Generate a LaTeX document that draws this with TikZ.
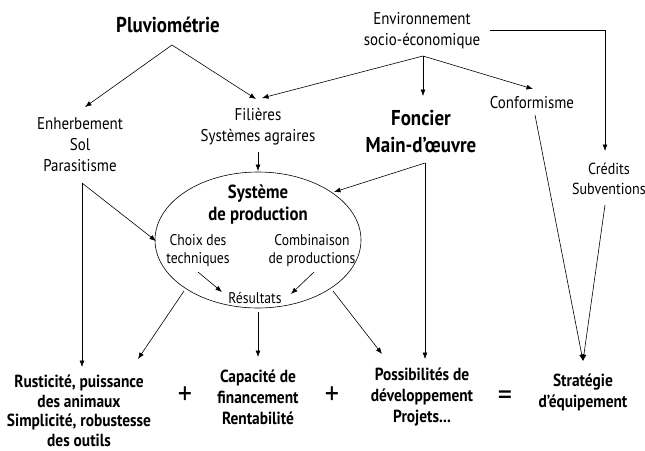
\documentclass[tikz,border=0pt]{standalone}
\usepackage{fontspec}
\setmainfont[FakeStretch=0.88]{PT Sans}
\usetikzlibrary{arrows.meta,shapes.geometric}
\begin{document}
\begin{tikzpicture}[x=1pt,y=-1pt,
  txt/.style={align=center,inner sep=0pt,font=\fontsize{17}{21}\selectfont},
  small/.style={align=center,inner sep=0pt,font=\fontsize{15.5}{18}\selectfont},
  big/.style={align=center,inner sep=0pt,font=\bfseries\fontsize{21.5}{27}\selectfont},
  sysf/.style={align=center,inner sep=0pt,font=\bfseries\fontsize{19}{22}\selectfont},
  bot/.style={align=center,inner sep=0pt,font=\bfseries\fontsize{17.5}{21}\selectfont},
  op/.style={inner sep=0pt,font=\fontsize{32}{32}\selectfont},
  con/.style={line width=0.6pt,-{Latex[length=6.5pt,width=5pt]}},
  ln/.style={line width=0.6pt}]
\useasboundingbox (0,0) rectangle (645,450);
% nodes
\node[big] (pluv) at (168,25) {Pluviométrie};
\node[txt] (env) at (422,31) {Environnement\\socio-économique};
\node[txt] (enh) at (80,145) {Enherbement\\Sol\\Parasitisme};
\node[txt] (fil) at (258,127) {Filières\\Systèmes agraires};
\node[big] (fon) at (421,132) {Foncier\\Main-d’œuvre};
\node[txt] (conf) at (532,103) {Conformisme};
\node[txt,font=\fontsize{16}{20}\selectfont] (cred) at (609,179) {Crédits\\Subventions};
\node[draw,ellipse,line width=0.6pt,minimum width=206,minimum height=136,inner sep=0pt] (sys) at (258,240) {};
\node[sysf] (sp) at (258,205) {Système\\de production};
\node[small] (choix) at (198,251) {Choix des\\techniques};
\node[small] (comb) at (312,251) {Combinaison\\de productions};
\node[small] (res) at (255,298) {Résultats};
\node[bot,font=\bfseries\fontsize{17.5}{19.5}\selectfont] (rus) at (79,411) {Rusticité, puissance\\des animaux\\Simplicité, robustesse\\des outils};
\node[bot] (cap) at (258,397) {Capacité de\\financement\\Rentabilité};
\node[bot] (pos) at (422,397) {Possibilités de\\développement\\Projets...};
\node[bot] (strat) at (583,392) {Stratégie\\d’équipement};
\node[op] (plus1) at (185,396) {+};
\node[op] (plus2) at (332,396) {+};
\node[op] (eq) at (505,398) {=};
% coordinates
\coordinate (pA) at (172,45);
\coordinate (enhT) at (85,107);
\coordinate (filT) at (256,99);
\coordinate (filT2) at (262,98);
\coordinate (eA) at (423,56);
\coordinate (fonT) at (423,96);
\coordinate (confT) at (533,89);
\coordinate (eR) at (490,30);
\coordinate (eC) at (605,30);
\coordinate (credT) at (605,151);
\coordinate (filB) at (258,152);
\coordinate (sysT) at (258,171);
\coordinate (fonC) at (425,163);
\coordinate (sysR) at (334,192);
\coordinate (posT) at (425,359);
\coordinate (enhC) at (82,183);
\coordinate (rusT) at (82,367);
\coordinate (sysL) at (156,241);
\coordinate (confB) at (535,115);
\coordinate (credB) at (605,205);
\coordinate (stratT) at (583,361);
\coordinate (choixB) at (198,272);
\coordinate (resL) at (222,292);
\coordinate (combB) at (314,272);
\coordinate (resR) at (291,294);
\coordinate (sysBL) at (184,291);
\coordinate (rusT2) at (138,359);
\coordinate (resB) at (258,312);
\coordinate (capT) at (258,357);
\coordinate (sysBR) at (333,291);
\coordinate (posT2) at (382,354);
% connectors
\draw[con] (pA) -- (enhT);
\draw[con] (pA) -- (filT);
\draw[con] (eA) -- (filT2);
\draw[con] (eA) -- (fonT);
\draw[con] (eA) -- (confT);
\draw[con] (eR) -- (eC) -- (credT);
\draw[con] (filB) -- (sysT);
\draw[con] (fonC) -- (sysR);
\draw[con] (fonC) -- (posT);
\draw[con] (enhC) -- (rusT);
\draw[con] (enhC) -- (sysL);
\draw[con] (confB) -- (stratT);
\draw[con] (credB) -- (stratT);
\draw[con] (choixB) -- (resL);
\draw[con] (combB) -- (resR);
\draw[con] (sysBL) -- (rusT2);
\draw[con] (resB) -- (capT);
\draw[con] (sysBR) -- (posT2);
\end{tikzpicture}
\end{document}
